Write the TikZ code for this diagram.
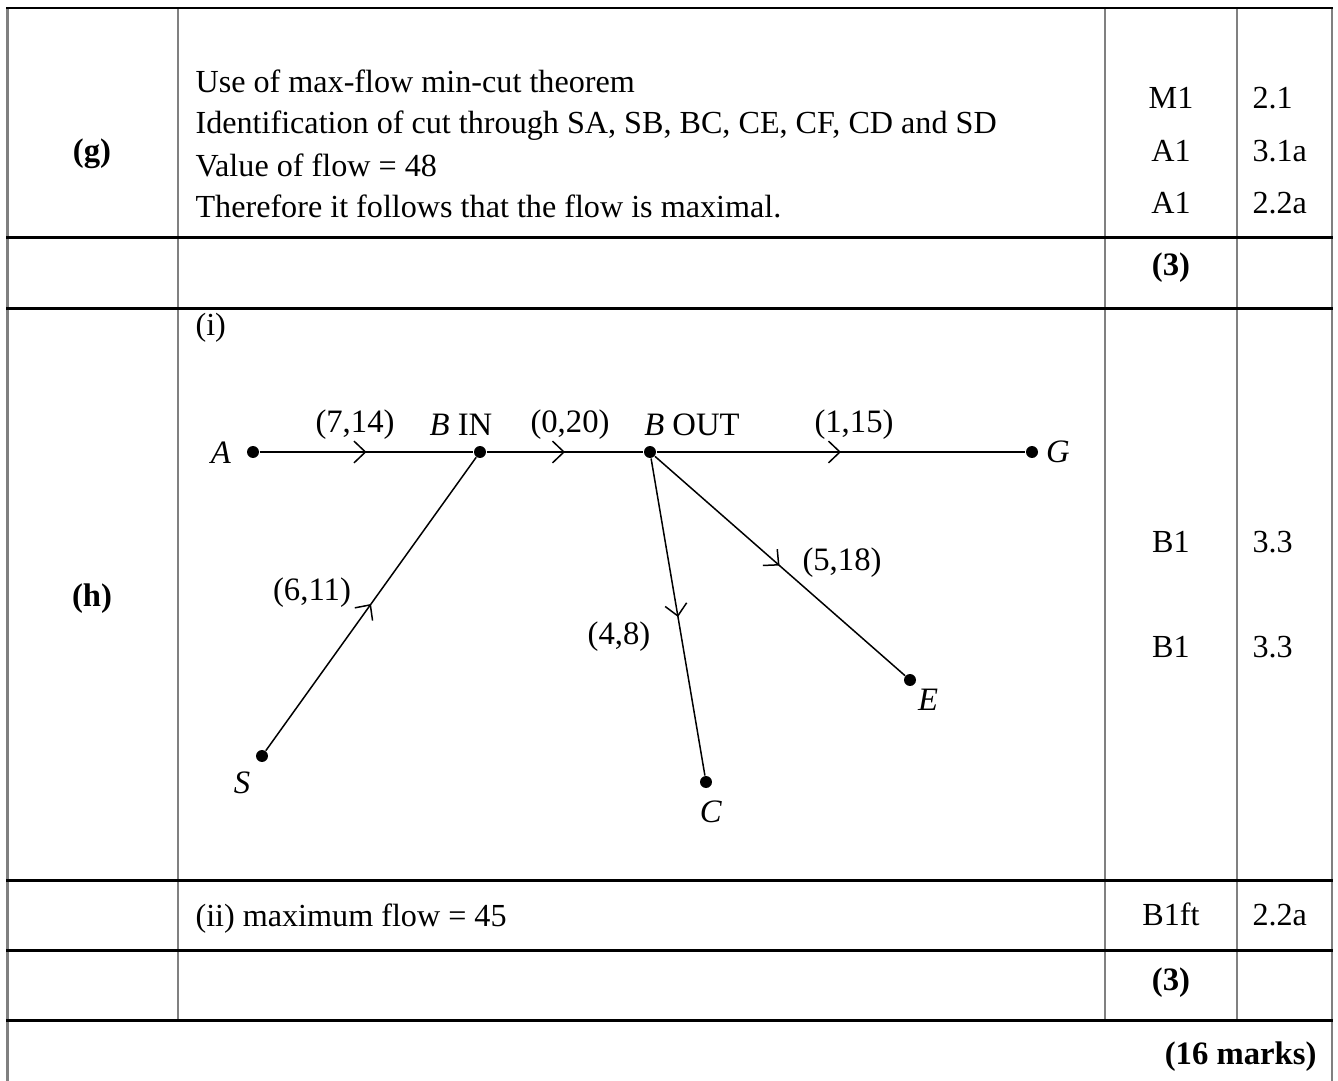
\documentclass[tikz,border=0pt]{standalone}
\usepackage{fontspec}
\setmainfont{Liberation Serif}
\definecolor{gg}{RGB}{128,128,128}
\usetikzlibrary{arrows.meta,decorations.markings}
\tikzset{
  colrule/.style={color=gg,line width=0.75pt},
  rowrule/.style={color=black,line width=1.1pt},
  txt/.style={anchor=base west,inner sep=0},
  ctr/.style={anchor=base,inner sep=0},
  hd/.style={anchor=base,inner sep=0,font=\fontsize{12pt}{14pt}\selectfont\bfseries},
  dot/.style={circle,fill=black,inner sep=0,minimum size=4.4pt},
  lbl/.style={inner sep=0,font=\fontsize{12pt}{14pt}\selectfont},
  flowedge/.style={line width=0.55pt,postaction={decorate},
    decoration={markings,mark=at position 0.5 with {\arrow{Straight Barb[length=4.2pt,width=8pt,line width=0.55pt]}}}}
}

\begin{document}
\begin{tikzpicture}[x=0.367pt,y=-0.367pt,font=\fontsize{11.8pt}{14pt}\selectfont]
\useasboundingbox (0,0) rectangle (1338,1081);

% table rules
\foreach \cx in {178,1105,1237} \draw[colrule] (\cx,8) -- (\cx,1020);
\draw[colrule] (7.5,8) -- (7.5,1081);
\draw[colrule] (1332,8) -- (1332,1081);
\foreach \ry in {8,237,308,880,950,1020} \draw[rowrule] (6,\ry) -- (1333,\ry);

% part (g)
\node[hd] (g) at (92,161) {(g)};
\node[txt] (g1) at (195,93) {Use of max-flow min-cut theorem};
\node[txt] (g2) at (195,134) {Identification of cut through SA, SB, BC, CE, CF, CD and SD};
\node[txt] (g3) at (195,176) {Value of flow = 48};
\node[txt] (g4) at (195,217) {Therefore it follows that the flow is maximal.};
\node[ctr] (m1) at (1171,108) {M1};
\node[ctr] (m2) at (1171,161) {A1};
\node[ctr] (m3) at (1171,213) {A1};
\node[txt] (a1) at (1252,108) {2.1};
\node[txt] (a2) at (1252,161) {3.1a};
\node[txt] (a3) at (1252,213) {2.2a};
\node[hd] (t1) at (1171,275) {(3)};

% part (h)
\node[hd] (h) at (92,606) {(h)};
\node[txt] (hi) at (195,335) {(i)};
\node[ctr] (m4) at (1171,552) {B1};
\node[ctr] (m5) at (1171,657) {B1};
\node[txt] (a4) at (1252,552) {3.3};
\node[txt] (a5) at (1252,657) {3.3};
\node[txt] (hii) at (195,926) {(ii) maximum flow = 45};
\node[ctr] (m6) at (1171,925) {B1ft};
\node[txt] (a6) at (1252,925) {2.2a};
\node[hd] (t2) at (1171,990) {(3)};
\node[hd,anchor=base east] (tot) at (1317,1064) {(16 marks)};

% network
\node[dot] (A) at (253,452) {};
\node[dot] (Bin) at (480,452) {};
\node[dot] (Bout) at (650,452) {};
\node[dot] (G) at (1032,452) {};
\node[dot] (S) at (262,756) {};
\node[dot] (C) at (706,782) {};
\node[dot] (E) at (910,680) {};

\node[lbl] (lA) at (221,453) {\textit{A}};
\node[lbl] (lG) at (1058,452) {\textit{G}};
\node[lbl] (lS) at (242,783) {\textit{S}};
\node[lbl] (lC) at (711,812) {\textit{C}};
\node[lbl] (lE) at (928,700) {\textit{E}};
\node[lbl] (lBin) at (461,425) {\textit{B} IN};
\node[lbl] (lBout) at (692,425) {\textit{B} OUT};
\node[lbl] (fAB) at (355,425) {(7,14)};
\node[lbl] (fBB) at (570,425) {(0,20)};
\node[lbl] (fBG) at (854,425) {(1,15)};
\node[lbl] (fSB) at (312,593) {(6,11)};
\node[lbl] (fBC) at (619,637) {(4,8)};
\node[lbl] (fBE) at (842,563) {(5,18)};

\draw[flowedge] (A) -- (Bin);
\draw[flowedge] (Bin) -- (Bout);
\draw[flowedge] (Bout) -- (G);
\draw[flowedge] (S) -- (Bin);
\draw[flowedge] (Bout) -- (C);
\draw[flowedge] (Bout) -- (E);

\end{tikzpicture}
\end{document}
